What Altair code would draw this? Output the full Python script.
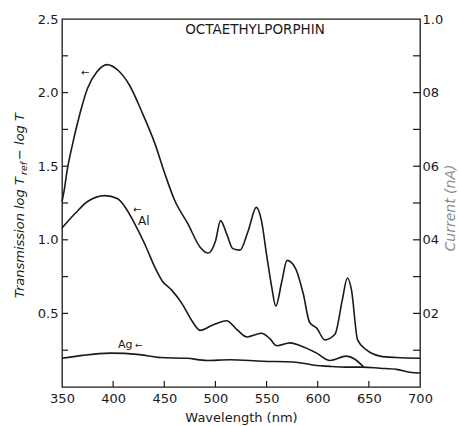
import altair as alt
import pandas as pd

# ---- data ----
# Transmission curve (left axis: log T_ref - log T)
wl_T = [350, 352, 355, 360, 368, 375, 384, 394, 405, 416, 428, 441, 451, 460, 473, 485,
        493, 500, 505, 511, 517, 524, 532, 540, 545, 550, 555, 559, 565, 570, 578, 586,
        592, 599, 607, 617, 624, 629, 633, 639, 648, 661, 677, 700]
T_vals = [1.26, 1.33, 1.47, 1.64, 1.87, 2.03, 2.14, 2.19, 2.15, 2.05, 1.87, 1.65, 1.44, 1.27, 1.11, 0.95,
          0.91, 0.99, 1.13, 1.04, 0.94, 0.93, 1.06, 1.22, 1.13, 0.90, 0.68, 0.55, 0.72, 0.86, 0.81, 0.63,
          0.44, 0.40, 0.32, 0.36, 0.59, 0.74, 0.66, 0.32, 0.25, 0.21, 0.20, 0.195]

# Photocurrent, Al electrode (right axis, nA)
wl_Al = [350, 363, 375, 392, 404, 412, 421, 431, 441, 448, 457, 467, 477, 485, 497, 511,
         521, 531, 545, 553, 560, 573, 583, 599, 612, 628, 636, 645]
Al_vals = [0.432, 0.472, 0.504, 0.520, 0.512, 0.488, 0.444, 0.388, 0.324, 0.288, 0.264, 0.228, 0.180, 0.154, 0.168, 0.180,
           0.156, 0.136, 0.146, 0.132, 0.112, 0.120, 0.112, 0.092, 0.072, 0.084, 0.076, 0.054]

# Photocurrent, Ag electrode (right axis, nA)
wl_Ag = [350, 370, 397, 426, 446, 472, 492, 514, 546, 576, 595, 612, 628, 644, 661, 677, 690, 700]
Ag_vals = [0.078, 0.086, 0.092, 0.088, 0.080, 0.078, 0.072, 0.074, 0.070, 0.068, 0.060, 0.056, 0.054, 0.054, 0.051, 0.048, 0.040, 0.038]

x_ticks = [350, 400, 450, 500, 550, 600, 650, 700]
left_label_vals = [0.5, 1.0, 1.5, 2.0, 2.5]
left_tick_vals = [0.25, 0.5, 0.75, 1.0, 1.25, 1.5, 1.75, 2.0, 2.25]
right_label_vals = [0.2, 0.4, 0.6, 0.8, 1.0]
right_label_text = ["02", "04", "06", "08", "1.0"]
right_tick_vals = [0.1, 0.2, 0.3, 0.4, 0.5, 0.6, 0.7, 0.8, 0.9]

W, H = 358, 368
FONT = "DejaVu Sans"
INK = "#1a1a1a"

df_T = pd.DataFrame({"wl": wl_T, "v": T_vals})
df_cur = pd.concat([
    pd.DataFrame({"wl": wl_Al, "v": Al_vals, "s": "Al"}),
    pd.DataFrame({"wl": wl_Ag, "v": Ag_vals, "s": "Ag"}),
])
df_xt = pd.DataFrame({"wl": x_ticks[1:-1]})
df_lt = pd.DataFrame({"t": left_tick_vals})
df_rt = pd.DataFrame({"t": right_tick_vals})
one = pd.DataFrame({"a": [0]})

xscale = alt.Scale(domain=[350, 700], nice=False, zero=False)
lscale = alt.Scale(domain=[0, 2.5], nice=False, zero=False)
rscale = alt.Scale(domain=[0, 1.0], nice=False, zero=False)

x_axis = alt.Axis(values=x_ticks, format="d", tickSize=0, labelPadding=5, domain=False, grid=False,
                  labelFlush=False, labelOverlap=False,
                  title="Wavelength (nm)", titlePadding=6, titleFontWeight="normal",
                  titleFontSize=13, labelFontSize=13, labelFont=FONT, titleFont=FONT,
                  labelColor=INK, titleColor=INK)
X = alt.X("wl:Q", scale=xscale, axis=x_axis)

rexpr = " : ".join(
    f"abs(datum.value - {v}) < 0.01 ? '{t}'" for v, t in zip(right_label_vals, right_label_text)
) + " : ''"

trans = alt.Chart(df_T).mark_line(color=INK, strokeWidth=1.6, interpolate="monotone").encode(
    x=X,
    y=alt.Y("v:Q", scale=lscale,
            axis=alt.Axis(orient="left", values=left_label_vals, format=".1f", tickSize=0, labelPadding=4,
                          labelFlush=False, domain=False, grid=False, title=None, labelFontSize=13,
                          labelFont=FONT, labelColor=INK)),
)

cur = alt.Chart(df_cur).mark_line(color=INK, strokeWidth=1.6, interpolate="monotone").encode(
    x=X,
    y=alt.Y("v:Q", scale=rscale,
            axis=alt.Axis(orient="right", values=right_label_vals, labelExpr=rexpr, tickSize=0, labelPadding=2,
                          labelFlush=False, domain=False, grid=False, title=None, labelFontSize=13,
                          labelFont=FONT, labelColor=INK)),
    detail="s:N",
)

xt = alt.Chart(df_xt).mark_rule(color=INK, strokeWidth=1.2).encode(
    x=X,
    y=alt.value(H - 6), y2=alt.value(H),
)
lt = alt.Chart(df_lt).mark_rule(color=INK, strokeWidth=1.2).encode(
    y=alt.Y("t:Q", scale=lscale, axis=None),
    x=alt.value(0), x2=alt.value(6),
)
rt = alt.Chart(df_rt).mark_rule(color=INK, strokeWidth=1.2).encode(
    y=alt.Y("t:Q", scale=rscale, axis=None),
    x=alt.value(W - 7), x2=alt.value(W),
)


def txt(s, x, y, size=13, align="left", baseline="middle", angle=0, style="normal", color=INK):
    kw = dict(text=s, fontSize=size, font=FONT, align=align, baseline=baseline, color=color, fontStyle=style)
    if angle:
        kw["angle"] = angle
    return alt.Chart(one).mark_text(**kw).encode(x=alt.value(x), y=alt.value(y))


labels = [
    txt("OCTAETHYLPORPHIN", 193, 11, size=13.5, align="center"),
    txt("←", 19, 54, size=10),
    txt("←", 71, 191, size=10),
    txt("Al", 76, 202, size=12),
    txt("Ag", 56, 326, size=11),
    txt("←", 73, 326, size=9),
    # left axis title: Transmission log T_ref − log T (rotated)
    txt("Transmission log T", -42, 279, size=13, angle=270, style="italic"),
    txt("ref", -38, 156, size=9.5, angle=270, style="italic"),
    txt("− log T", -42, 141, size=13, angle=270, style="italic"),
    # right axis title
    txt("Current (nA)", 389, 189, size=14, align="center", angle=270, style="italic", color="#8c8c8c"),
]

chart = alt.layer(trans, cur, xt, lt, rt, *labels).resolve_scale(y="independent").properties(
    width=W, height=H,
    padding={"left": 62, "top": 19, "right": 39, "bottom": 39},
    autosize=alt.AutoSizeParams(type="none"),
    background="white",
).configure_view(stroke=INK, strokeWidth=1.3)

chart.save("out.html", embed_options={"renderer": "svg", "actions": False})
